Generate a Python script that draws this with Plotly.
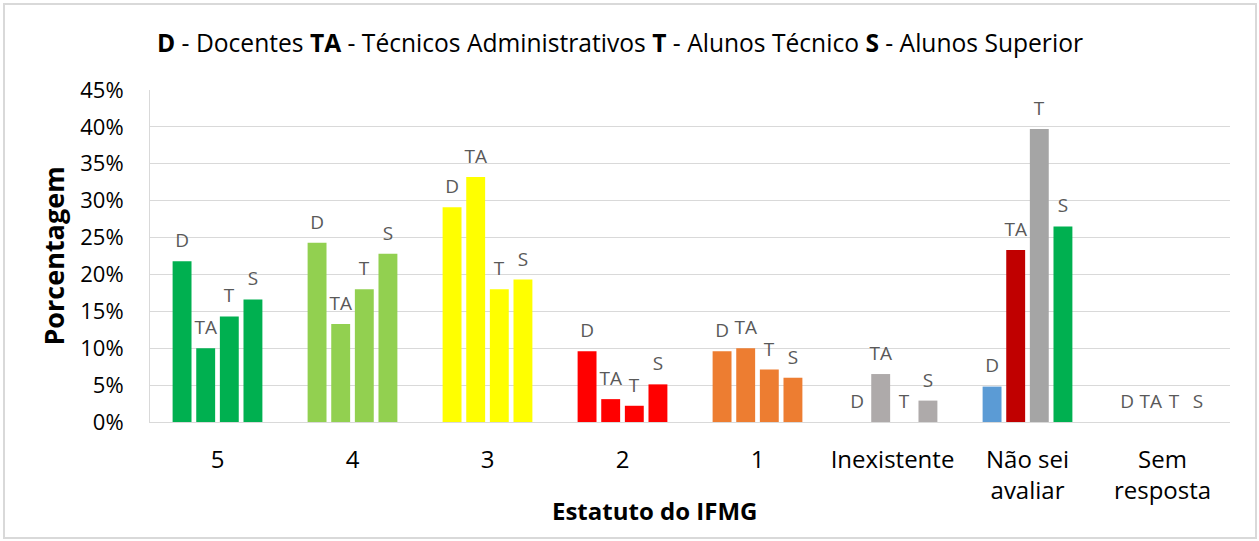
import plotly.graph_objects as go

# Categories on the x axis
categories = ["5", "4", "3", "2", "1", "Inexistente", "Não sei<br>avaliar", "Sem<br>resposta"]

# Percent values per group
docentes = [21.8, 24.3, 29.1, 9.6, 9.6, 0.0, 4.8, 0.0]
tecnicos_adm = [10.0, 13.3, 33.2, 3.1, 10.0, 6.5, 23.3, 0.0]
alunos_tecnico = [14.3, 18.0, 18.0, 2.2, 7.1, 0.0, 39.7, 0.0]
alunos_superior = [16.6, 22.8, 19.3, 5.1, 6.0, 2.9, 26.5, 0.0]

series_labels = ["D", "TA", "T", "S"]

# colours per category (Excel-like palette), "Não sei avaliar" differs per series
base = ["#00B050", "#92D050", "#FFFF00", "#FF0000", "#ED7D31", "#AEAAAA"]
nsa = ["#5B9BD5", "#C00000", "#A5A5A5", "#00B050"]

FONT = "Open Sans, Lato, sans-serif"

fig = go.Figure()
for i, (lab, vals) in enumerate(zip(series_labels, [docentes, tecnicos_adm, alunos_tecnico, alunos_superior])):
    colors = base + [nsa[i], "#FFFFFF"]
    fig.add_trace(go.Bar(
        x=categories, y=vals, name=lab,
        marker=dict(color=colors, line=dict(width=0)),
        text=[lab] * len(vals), textposition="outside",
        # small blank second line lifts the label a bit off the bar
        texttemplate="<span style='font-size:19px'>%{text}</span><br> ",
        textfont=dict(size=7, color="#595959", family=FONT),
        constraintext="none",
        cliponaxis=False,
    ))

fig.update_layout(
    width=1259, height=541,
    barmode="group", bargap=0.3, bargroupgap=0.2,
    showlegend=False,
    plot_bgcolor="white", paper_bgcolor="white",
    font=dict(family=FONT, color="#000000"),
    margin=dict(l=150, r=29, t=90, b=119),
    title=dict(
        text="<b>D</b> - Docentes <b>TA</b> - Técnicos Administrativos <b>T</b> - Alunos Técnico <b>S</b> - Alunos Superior",
        x=620 / 1259, xanchor="center", y=1 - 43 / 541, yanchor="middle",
        font=dict(size=24.6, color="#000000", family=FONT),
    ),
    shapes=[dict(type="rect", xref="paper", yref="paper",
                 x0=(4 - 150) / 1080, x1=(1256 - 150) / 1080,
                 y0=(422 - 538) / 332, y1=(422 - 4) / 332,
                 line=dict(color="#D9D9D9", width=2), layer="below")],
    annotations=[dict(text="<b>Estatuto do IFMG</b>", xref="paper", yref="paper",
                      x=(654 - 150) / 1080, y=(422 - 510) / 332,
                      xanchor="center", yanchor="middle", showarrow=False,
                      font=dict(size=24, color="#000000", family=FONT))],
)

fig.update_yaxes(
    range=[0, 45], dtick=5, ticksuffix="%",
    showgrid=True, gridcolor="#D9D9D9", gridwidth=1,
    showline=True, linecolor="#D9D9D9",
    zeroline=False,
    ticklabelstandoff=21,
    tickfont=dict(size=22, color="#000000"),
    title=dict(text="<b>Porcentagem</b>", font=dict(size=27, color="#000000"), standoff=7),
)
fig.update_xaxes(
    showline=True, linecolor="#D9D9D9",
    tickfont=dict(size=24, color="#000000"),
    ticks="", ticklen=0,
    ticklabelstandoff=16,
)

fig.write_html("out.html", config={"displayModeBar": False},
               post_script="document.body.style.margin='0';")
